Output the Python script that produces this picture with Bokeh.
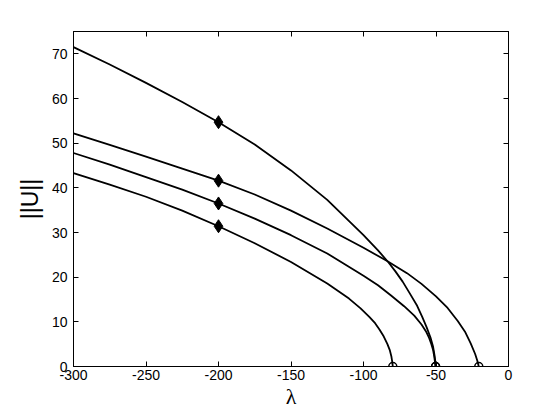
from bokeh.plotting import figure
from bokeh.models import LinearAxis, FixedTicker, Range1d
from bokeh.embed import file_html
from bokeh.resources import INLINE

# Branch data
lam_a = [-300, -275, -250, -225, -200, -175, -150, -125, -100, -90, -83, -78, -73, -68.5, -63, -59.5, -56.5, -53.8, -52, -51, -50.5, -50.3]
u_a = [71.5, 67.6, 63.5, 59.2, 54.7, 49.7, 43.9, 37.3, 29.4, 26.0, 23.4, 21.3, 19.0, 16.6, 13.6, 11.1, 8.8, 6.5, 4.4, 2.5, 1.2, 0]

lam_b = [-300, -275, -250, -225, -200, -175, -150, -125, -100, -83.7, -70, -60, -50, -42, -35, -30, -26, -23, -21.5, -20.5]
u_b = [52.2, 49.6, 47.0, 44.3, 41.6, 38.5, 34.9, 30.9, 26.6, 23.6, 20.9, 18.5, 15.7, 13.1, 10.2, 7.8, 5.1, 2.8, 1.3, 0]

lam_c = [-300, -275, -250, -225, -200, -175, -150, -125, -100, -90, -81, -72, -65, -60, -57, -55, -53.3, -52, -51.2, -50.3]
u_c = [47.8, 45.2, 42.4, 39.6, 36.5, 33.1, 29.4, 25.3, 20.3, 18.2, 15.9, 13.5, 11.4, 9.4, 7.9, 6.6, 5.1, 3.7, 2.2, 0]

lam_d = [-300, -275, -250, -225, -200, -175, -150, -125, -110, -102, -96, -92, -89, -86, -83.5, -81.8, -80.8, -80.2, -79.8]
u_d = [43.3, 40.7, 38.0, 34.9, 31.4, 27.6, 23.4, 18.6, 15.2, 13.0, 11.1, 9.7, 8.3, 6.7, 5.0, 3.6, 2.3, 1.1, 0]

# Bifurcation points (open circles) and marked points (diamonds)
bif_lam = [-79.8, -50.3, -50.3, -20.5]
bif_u = [0, 0, 0, 0]
mark_lam = [-200, -200, -200, -200]
mark_u = [54.7, 41.6, 36.5, 31.4]

x_ticks = [-300, -250, -200, -150, -100, -50, 0]
x_tick_labels = ["-300", "-250", "-200", "-150", "-100", "-50", "0"]
y_ticks = [0, 10, 20, 30, 40, 50, 60, 70]
y_tick_labels = ["0", "10", "20", "30", "40", "50", "60", "70"]

p = figure(width=552, height=412, output_backend="svg", toolbar_location=None,
           x_range=Range1d(-300, 0), y_range=Range1d(0, 75),
           min_border_left=73, min_border_right=44, min_border_top=31, min_border_bottom=46,
           x_axis_label="λ", y_axis_label="||U||")
p.background_fill_color = "white"
p.border_fill_color = "white"
p.outline_line_color = "black"
p.outline_line_width = 1
p.grid.visible = False

for ax in p.xaxis:
    ax.ticker = FixedTicker(ticks=x_ticks)
    ax.major_label_overrides = dict(zip(x_ticks, x_tick_labels))
for ax in p.yaxis:
    ax.ticker = FixedTicker(ticks=y_ticks)
    ax.major_label_overrides = dict(zip(y_ticks, y_tick_labels))

for ax in list(p.xaxis) + list(p.yaxis):
    ax.major_tick_in = 5
    ax.major_tick_out = 0
    ax.minor_tick_line_color = None
    ax.axis_line_color = "black"
    ax.major_tick_line_color = "black"
    ax.major_label_text_font = "Liberation Sans"
    ax.major_label_text_font_size = "14px"
    ax.major_label_text_color = "black"
    ax.axis_label_text_font_style = "normal"
    ax.axis_label_text_color = "black"

p.xaxis.major_label_standoff = 3
p.xaxis.axis_label_text_font = "Liberation Serif"
p.xaxis.axis_label_text_font_size = "22px"
p.xaxis.axis_label_standoff = 1
p.yaxis.major_label_standoff = 6
p.yaxis.axis_label_text_font = "Liberation Sans"
p.yaxis.axis_label_text_font_size = "23px"
p.yaxis.axis_label_standoff = 6

top = LinearAxis(ticker=FixedTicker(ticks=x_ticks), major_tick_in=5, major_tick_out=0,
                 minor_tick_line_color=None, major_label_text_color=None,
                 major_label_text_font_size="1px", major_label_standoff=0,
                 axis_line_color="black")
right = LinearAxis(ticker=FixedTicker(ticks=y_ticks), major_tick_in=5, major_tick_out=0,
                   minor_tick_line_color=None, major_label_text_color=None,
                   major_label_text_font_size="1px", major_label_standoff=0,
                   axis_line_color="black")
p.add_layout(top, "above")
p.add_layout(right, "right")

for lx, uy in [(lam_a, u_a), (lam_b, u_b), (lam_c, u_c), (lam_d, u_d)]:
    p.line(lx, uy, line_color="black", line_width=1.8, line_join="round")

p.scatter(mark_lam, mark_u, marker="diamond", size=13, fill_color="black", line_color="black")
p.scatter(bif_lam, bif_u, marker="circle", size=8, fill_color=None, line_color="black", line_width=1.5)

open("out.html", "w").write(file_html(p, INLINE))
